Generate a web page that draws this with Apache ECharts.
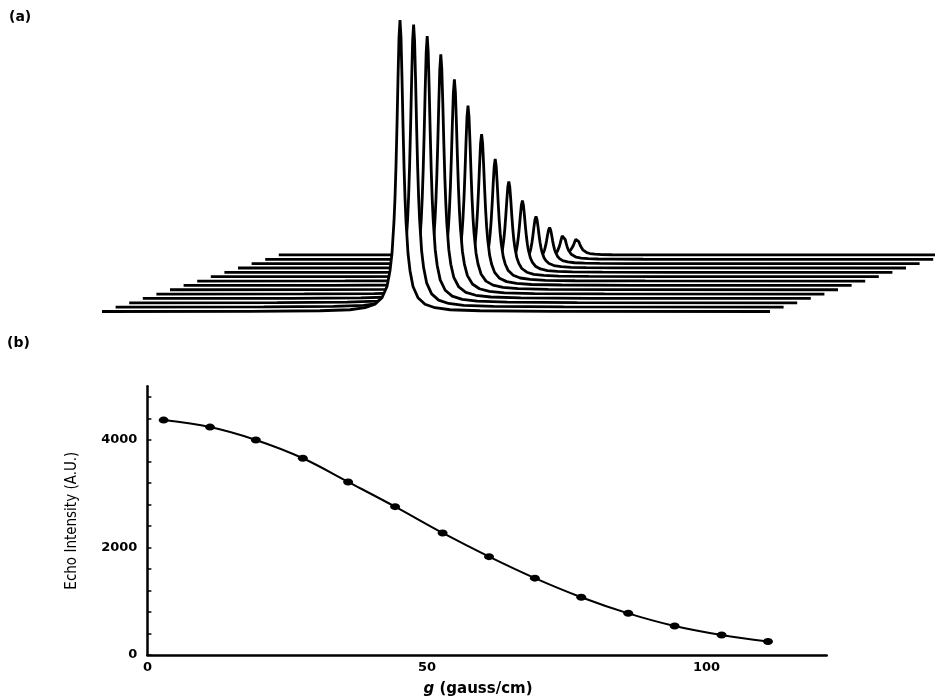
<!DOCTYPE html>
<html><head><meta charset="utf-8">
<script src="https://cdn.jsdelivr.net/npm/echarts@6/dist/echarts.min.js"></script>
<style>html,body{margin:0;padding:0;background:#fff}#c{width:935px;height:700px}</style>
</head><body><div id="c"></div>
<script>
// Panel (b): gradient strength g (gauss/cm) and echo intensity (A.U.)
const gradient = [2.9, 11.2, 19.4, 27.8, 35.9, 44.3, 52.8, 61.1, 69.3, 77.6, 86.0, 94.3, 102.7, 111.0];
const echoIntensity = [4370, 4240, 4000, 3660, 3220, 2760, 2270, 1830, 1430, 1075, 775, 540, 372, 250];
// Panel (a): line shape of one spectrum (offset from peak, fraction of peak height)
const shapeOffset = [-298, -150, -80, -50, -35, -25, -18, -13, -10, -8, -6, -5, -4, -3, -2, -1, 0, 1, 2, 3, 4, 5, 6, 8, 10, 13, 18, 25, 35, 50, 80, 150, 370];
const shapeValue = [0, 0.0007, 0.0025, 0.006, 0.013, 0.025, 0.047, 0.086, 0.14, 0.2, 0.31, 0.39, 0.5, 0.64, 0.8, 0.94, 1, 0.94, 0.8, 0.64, 0.5, 0.39, 0.31, 0.2, 0.14, 0.086, 0.047, 0.025, 0.013, 0.006, 0.0025, 0.0007, 0];
// tick labels
const xTickLabels = [0, 50, 100];
const yTickLabels = [0, 2000, 4000];

// stacking skew of the pseudo-3D plot (layout)
const STEP_X = 13.6, STEP_Y = 65.25;

const chart = echarts.init(document.getElementById('c'), null, {renderer: 'canvas'});
const LBL = {color: '#000', fontFamily: 'DejaVu Sans', fontWeight: 'bold', fontSize: 13};

const series = [];
for (let i = echoIntensity.length - 1; i >= 0; i--) {
  const pts = shapeOffset.map((o, k) => [o + i * STEP_X, i * STEP_Y + echoIntensity[i] * shapeValue[k]]);
  series.push({
    type: 'line', xAxisIndex: 0, yAxisIndex: 0, data: pts,
    showSymbol: false, symbol: 'none', silent: true, animation: false,
    z: 20 - i,
    lineStyle: {color: '#000', width: 2.8, join: 'bevel'},
    areaStyle: {color: '#fff', opacity: 1, origin: 'start'}
  });
}
series.push({
  type: 'line', xAxisIndex: 1, yAxisIndex: 1,
  data: gradient.map((g, i) => [g, echoIntensity[i]]),
  smooth: 0.35, symbol: 'circle', symbolSize: [10, 7], showSymbol: true,
  itemStyle: {color: '#000'}, lineStyle: {color: '#000', width: 2}, animation: false
});

chart.setOption({
  backgroundColor: '#fff',
  animation: false,
  grid: [
    {left: 100, right: 0, top: 11.5, bottom: 378.5},
    {left: 147.4, right: 108.3, top: 386.25, bottom: 45}
  ],
  xAxis: [
    {gridIndex: 0, type: 'value', min: -300, max: 535, show: false},
    {gridIndex: 1, type: 'value', min: 0, max: 121.5, interval: 50,
     axisLine: {lineStyle: {color: '#000', width: 2.5}},
     axisTick: {show: false}, splitLine: {show: false},
     axisLabel: Object.assign({margin: 6, showMaxLabel: false,
       formatter: v => xTickLabels.includes(v) ? String(v) : ''}, LBL),
     name: '{i|g} (gauss/cm)', nameLocation: 'middle', nameGap: 27, nameMoveOverlap: false,
     nameTextStyle: {color: '#000', fontFamily: 'DejaVu Sans', fontWeight: 'bold', fontSize: 15,
       padding: [0, 18, 0, 0],
       rich: {i: {fontStyle: 'italic', fontWeight: 'bold', fontFamily: 'DejaVu Sans', fontSize: 15, color: '#000'}}}
    }
  ],
  yAxis: [
    {gridIndex: 0, type: 'value', min: -150, max: 4500, show: false},
    {gridIndex: 1, type: 'value', min: 0, max: 5000, interval: 400,
     axisLine: {show: true, lineStyle: {color: '#000', width: 2.5}},
     axisTick: {show: true, inside: true, length: 4, lineStyle: {color: '#000', width: 1.5}},
     splitLine: {show: false},
     axisLabel: Object.assign({margin: 10, showMaxLabel: false,
       formatter: v => yTickLabels.includes(v) ? String(v) : ''}, LBL),
     name: 'Echo Intensity (A.U.)', nameLocation: 'middle', nameRotate: 90, nameGap: 68,
     nameMoveOverlap: false,
     nameTextStyle: {color: '#000', fontFamily: "'Liberation Sans Narrow', 'DejaVu Sans Condensed', sans-serif", fontSize: 15}
    }
  ],
  graphic: [
    {type: 'text', left: 9, top: 10, style: {text: '(a)', fill: '#000', font: 'bold 14px "DejaVu Sans"'}},
    {type: 'text', left: 7, top: 336, style: {text: '(b)', fill: '#000', font: 'bold 14px "DejaVu Sans"'}}
  ],
  series: series
});
</script>
</body></html>
